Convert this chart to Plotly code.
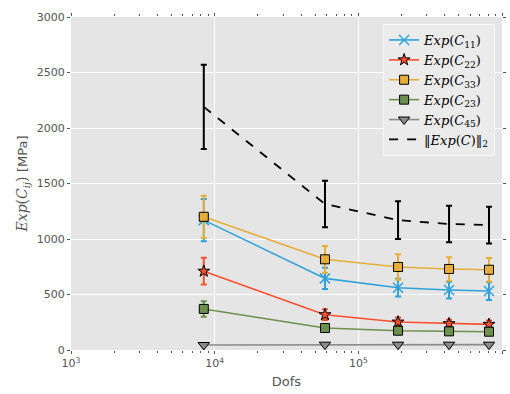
import plotly.graph_objects as go

# Degrees of freedom of each mesh
dofs = [8400, 58600, 189000, 428000, 812000]

# Expected stiffness components [MPa] and their spreads
c11 = [1170, 645, 561, 540, 531]
c11_err = [190, 95, 80, 75, 80]
c22 = [710, 318, 252, 237, 231]
c22_err = [120, 48, 40, 35, 35]
c33 = [1200, 817, 748, 730, 723]
c33_err = [190, 120, 115, 105, 105]
c23 = [370, 198, 174, 168, 165]
c23_err = [70, 20, 18, 15, 15]
c45 = [45, 48, 48, 48, 48]
c45_err = [5, 4, 4, 4, 4]
cnorm = [2190, 1315, 1170, 1135, 1125]
cnorm_err = [380, 210, 170, 165, 165]

names = [
    "<i>Exp</i>(<i>C</i><sub>11</sub>)",
    "<i>Exp</i>(<i>C</i><sub>22</sub>)",
    "<i>Exp</i>(<i>C</i><sub>33</sub>)",
    "<i>Exp</i>(<i>C</i><sub>23</sub>)",
    "<i>Exp</i>(<i>C</i><sub>45</sub>)",
    "\u2016<i>Exp</i>(<i>C</i>)\u2016<sub>2</sub>",
]

x_tickvals = [1e3, 1e4, 1e5, 1e6]
x_ticktext = ["10<sup>3</sup>", "10<sup>4</sup>", "10<sup>5</sup>", "10<sup>6</sup>"]
y_tickvals = [0, 500, 1000, 1500, 2000, 2500, 3000]

series = [
    (c11, c11_err, "#30a2da", "x-thin-open", None, 10),
    (c22, c22_err, "#fc4f30", "star", "#fc4f30", 9),
    (c33, c33_err, "#e5ae38", "square", "#e5ae38", 9),
    (c23, c23_err, "#6d904f", "square", "#6d904f", 9),
    (c45, c45_err, "#8b8b8b", "triangle-down", "#8b8b8b", 10),
]

fig = go.Figure()
for (vals, errs, col, sym, fill, size), name in zip(series, names[:5]):
    marker = dict(symbol=sym, size=size, color=fill if fill else col)
    if fill:
        marker["line"] = dict(color="black", width=1)
    else:
        marker["line"] = dict(color=col, width=1.5)
    fig.add_trace(go.Scatter(
        x=dofs, y=vals, name=name, mode="lines+markers",
        line=dict(color=col, width=1.6),
        marker=marker,
        error_y=dict(type="data", array=errs, color=col, thickness=2, width=3),
    ))

fig.add_trace(go.Scatter(
    x=dofs, y=cnorm, name=names[5], mode="lines",
    line=dict(color="black", width=1.8, dash="dash"),
    error_y=dict(type="data", array=cnorm_err, color="black", thickness=2, width=3),
))

axis_common = dict(
    showline=False, zeroline=False, gridcolor="white", gridwidth=1,
    ticks="outside", ticklen=3, tickcolor="#555555", mirror="ticks",
    tickfont=dict(family="DejaVu Sans", size=11, color="#555555"),
)

fig.update_xaxes(
    type="log", range=[3, 6], tickvals=x_tickvals, ticktext=x_ticktext,
    minor=dict(ticks="outside", ticklen=2, tickcolor="#555555", showgrid=False,
               tickvals=[m * 10 ** e for e in (3, 4, 5) for m in range(2, 10)]),
    title=dict(text="Dofs", font=dict(family="DejaVu Sans", size=13, color="#555555"), standoff=7),
    **axis_common,
)
fig.update_yaxes(
    range=[0, 3000], tickvals=y_tickvals,
    title=dict(text="<i>Exp</i>(<i>C<sub>ij</sub></i>) "
                    "<span style='font-family:DejaVu Sans;font-size:13px'>[MPa]</span>",
               font=dict(family="DejaVu Serif", size=14, color="#555555"), standoff=5),
    **axis_common,
)

fig.update_layout(
    width=510, height=394,
    margin=dict(l=71, r=8, t=17, b=44),
    paper_bgcolor="white", plot_bgcolor="#e5e5e5",
    showlegend=True,
    legend=dict(
        x=0.984, y=0.979, xanchor="right", yanchor="top",
        bgcolor="#ebebeb", bordercolor="#f7f7f7", borderwidth=1,
        font=dict(family="DejaVu Serif", size=13, color="black"),
        tracegroupgap=0,
    ),
)

fig.write_html("out.html")
